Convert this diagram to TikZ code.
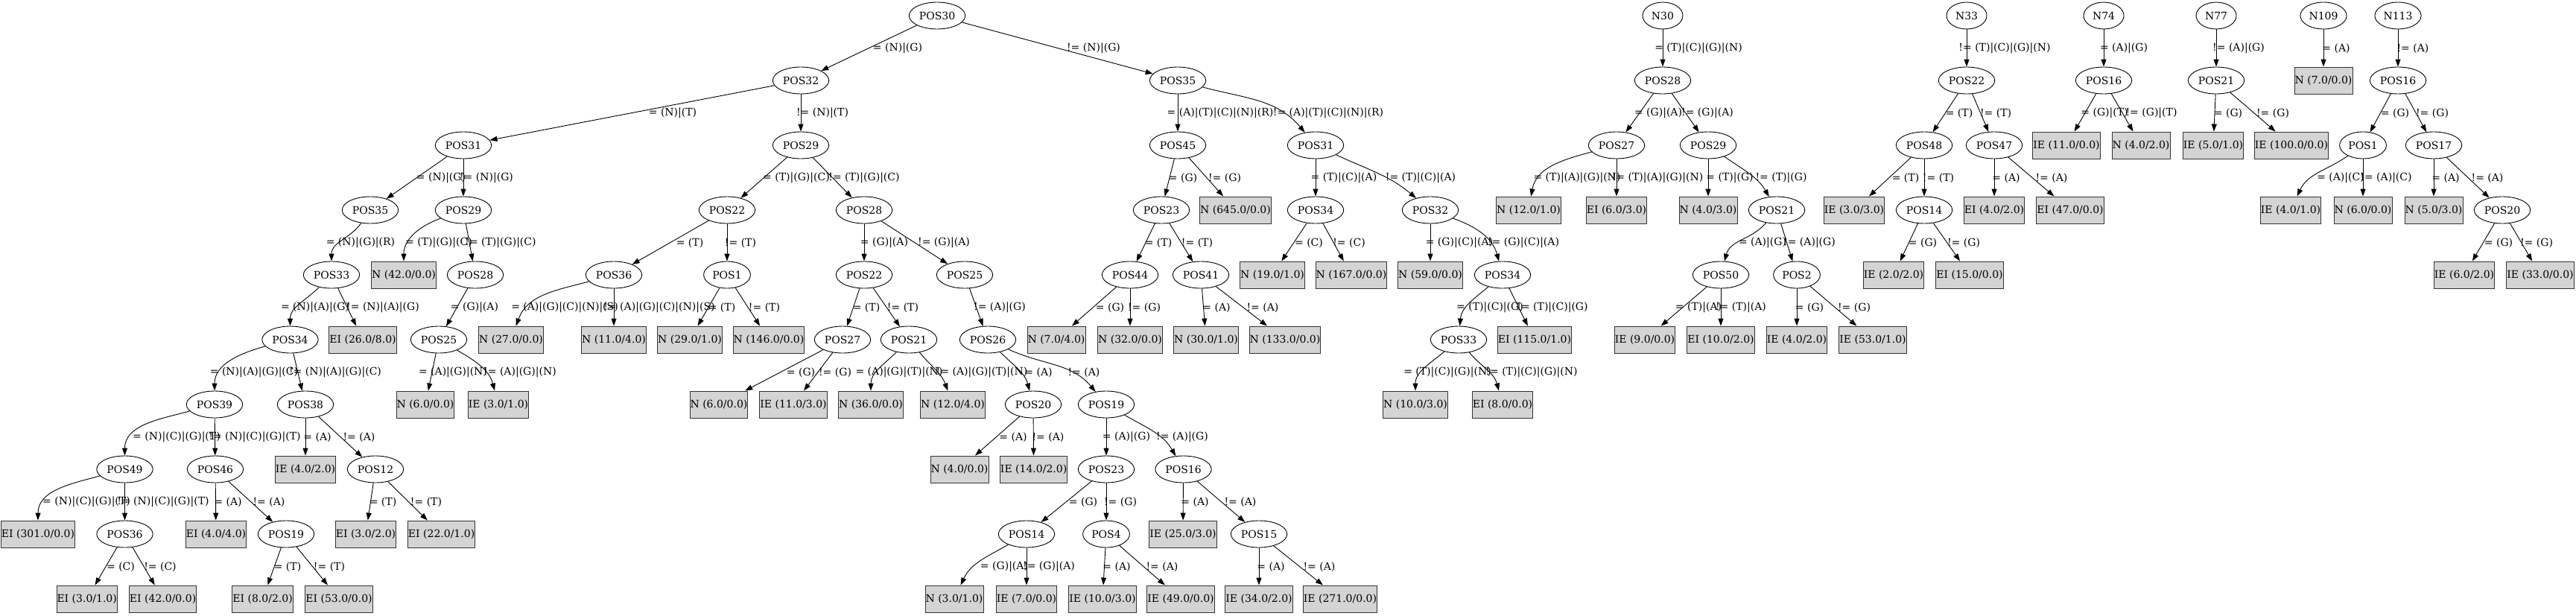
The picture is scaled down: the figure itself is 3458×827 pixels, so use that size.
\documentclass[tikz,border=0pt]{standalone}
\usepackage{fontspec}
\setmainfont{DejaVu Serif}
\usetikzlibrary{arrows.meta,shapes.geometric}

\begin{document}
\begin{tikzpicture}[
    x=1pt, y=-1pt,
    font=\fontsize{14}{16}\selectfont,
    split/.style={draw, ellipse, line width=0.9pt, inner xsep=2.5pt, inner ysep=0pt, minimum width=54pt, minimum height=36pt},
    leaf/.style={draw=black!80, line width=0.9pt, fill=black!17, inner xsep=0.5pt, inner ysep=0pt, minimum height=36pt},
    conn/.style={-{Triangle[length=10pt, width=7pt]}, line width=0.9pt},
    lbl/.style={inner sep=0pt}
]
\useasboundingbox (0,0) rectangle (3458,827);

% Baum POS30
\node[split] (pos30) at (1258,21) {POS30};
\node[split] (pos32) at (1075,108) {POS32};
\node[split] (pos35) at (1581,108) {POS35};
\node[split] (pos31) at (622,195) {POS31};
\node[split] (pos29) at (1075,195) {POS29};
\node[split] (pos35b) at (497,282) {POS35};
\node[split] (pos29b) at (622,282) {POS29};
\node[split] (pos33) at (445,369) {POS33};
\node[leaf] (n42) at (542,369) {N (42.0/0.0)};
\node[split] (pos28) at (638,369) {POS28};
\node[split] (pos34) at (389.5,456) {POS34};
\node[leaf] (ei26) at (487,456) {EI (26.0/8.0)};
\node[split] (pos25) at (589,456) {POS25};
\node[split] (pos39) at (288,543) {POS39};
\node[split] (pos38) at (410,543) {POS38};
\node[leaf] (n6a) at (571,543) {N (6.0/0.0)};
\node[leaf] (ie3a) at (669,543) {IE (3.0/1.0)};
\node[split] (pos49) at (167.5,630) {POS49};
\node[split] (pos46) at (289,630) {POS46};
\node[leaf] (ie4a) at (410,630) {IE (4.0/2.0)};
\node[split] (pos12) at (504,630) {POS12};
\node[leaf] (ei301) at (51,717) {EI (301.0/0.0)};
\node[split] (pos36) at (167.5,717) {POS36};
\node[leaf] (ei4) at (290,717) {EI (4.0/4.0)};
\node[split] (pos19) at (384,717) {POS19};
\node[leaf] (ei3b) at (491,717) {EI (3.0/2.0)};
\node[leaf] (ei22) at (592.6,717) {EI (22.0/1.0)};
\node[leaf] (ei3a) at (116.7,804) {EI (3.0/1.0)};
\node[leaf] (ei42) at (218.6,804) {EI (42.0/0.0)};
\node[leaf] (ei8a) at (352.6,804) {EI (8.0/2.0)};
\node[leaf] (ei53) at (455,804) {EI (53.0/0.0)};

\node[split] (pos22) at (976,282) {POS22};
\node[split] (pos28b) at (1160,282) {POS28};
\node[split] (pos36b) at (824,369) {POS36};
\node[split] (pos1) at (976,369) {POS1};
\node[split] (pos22b) at (1160,369) {POS22};
\node[split] (pos25b) at (1295,369) {POS25};
\node[leaf] (n27) at (686,456) {N (27.0/0.0)};
\node[leaf] (n11) at (824,456) {N (11.0/4.0)};
\node[leaf] (n29) at (926,456) {N (29.0/1.0)};
\node[leaf] (n146) at (1032,456) {N (146.0/0.0)};
\node[split] (pos27) at (1131,456) {POS27};
\node[split] (pos21) at (1220,456) {POS21};
\node[split] (pos26) at (1326,456) {POS26};
\node[leaf] (n6b) at (965,543) {N (6.0/0.0)};
\node[leaf] (ie11a) at (1065,543) {IE (11.0/3.0)};
\node[leaf] (n36) at (1169,543) {N (36.0/0.0)};
\node[leaf] (n12a) at (1279,543) {N (12.0/4.0)};
\node[split] (pos20) at (1387,543) {POS20};
\node[split] (pos19b) at (1485,543) {POS19};
\node[leaf] (n4a) at (1288,630) {N (4.0/0.0)};
\node[leaf] (ie14) at (1387.6,630) {IE (14.0/2.0)};
\node[split] (pos23) at (1485,630) {POS23};
\node[split] (pos16) at (1588.5,630) {POS16};
\node[split] (pos14) at (1378,717) {POS14};
\node[split] (pos4) at (1485,717) {POS4};
\node[leaf] (ie25) at (1588,717) {IE (25.0/3.0)};
\node[split] (pos15) at (1690,717) {POS15};
\node[leaf] (n3) at (1281,804) {N (3.0/1.0)};
\node[leaf] (ie7) at (1378,804) {IE (7.0/0.0)};
\node[leaf] (ie10) at (1480,804) {IE (10.0/3.0)};
\node[leaf] (ie49) at (1585,804) {IE (49.0/0.0)};
\node[leaf] (ie34) at (1690,804) {IE (34.0/2.0)};
\node[leaf] (ie271) at (1799,804) {IE (271.0/0.0)};

\node[split] (pos45) at (1581,195) {POS45};
\node[split] (pos31b) at (1766,195) {POS31};
\node[split] (pos23b) at (1559,282) {POS23};
\node[leaf] (n645) at (1658.5,282) {N (645.0/0.0)};
\node[split] (pos34b) at (1766,282) {POS34};
\node[split] (pos32b) at (1920,282) {POS32};
\node[split] (pos44) at (1517,369) {POS44};
\node[split] (pos41) at (1612,369) {POS41};
\node[leaf] (n19) at (1708,369) {N (19.0/1.0)};
\node[leaf] (n167) at (1814,369) {N (167.0/0.0)};
\node[leaf] (n59) at (1920,369) {N (59.0/0.0)};
\node[split] (pos34c) at (2017,369) {POS34};
\node[leaf] (n7a) at (1418,456) {N (7.0/4.0)};
\node[leaf] (n32) at (1517,456) {N (32.0/0.0)};
\node[leaf] (n30) at (1619,456) {N (30.0/1.0)};
\node[leaf] (n133) at (1725,456) {N (133.0/0.0)};
\node[split] (pos33b) at (1958,456) {POS33};
\node[leaf] (ei115) at (2060,456) {EI (115.0/1.0)};
\node[leaf] (n10) at (1900,543) {N (10.0/3.0)};
\node[leaf] (ei8b) at (2017,543) {EI (8.0/0.0)};

\draw[conn] (pos30) -- (pos32) node[lbl] at (1205,65) {= (N)|(G)};
\draw[conn] (pos30) -- (pos35) node[lbl] at (1468,65) {!= (N)|(G)};
\draw[conn] (pos32) -- (pos31) node[lbl] at (903,152) {= (N)|(T)};
\draw[conn] (pos32) -- (pos29) node[lbl] at (1104,152) {!= (N)|(T)};
\draw[conn] (pos31) -- (pos35b) node[lbl] at (592,239) {= (N)|(G)};
\draw[conn] (pos31) -- (pos29b) node[lbl] at (653,239) {!= (N)|(G)};
\draw[conn] (pos35b) to[out=235,in=90] (pos33) node[lbl] at (484,326) {= (N)|(G)|(R)};
\draw[conn] (pos29b) to[out=200,in=90] (n42) node[lbl] at (589,326) {= (T)|(G)|(C)};
\draw[conn] (pos29b) -- (pos28) node[lbl] at (672,326) {!= (T)|(G)|(C)};
\draw[conn] (pos33) to[out=225,in=90] (pos34) node[lbl] at (423,413) {= (N)|(A)|(G)};
\draw[conn] (pos33) -- (ei26) node[lbl] at (514,413) {!= (N)|(A)|(G)};
\draw[conn] (pos28) -- (pos25) node[lbl] at (637,413) {= (G)|(A)};
\draw[conn] (pos34) to[out=195,in=90] (pos39) node[lbl] at (341,500) {= (N)|(A)|(G)|(C)};
\draw[conn] (pos34) -- (pos38) node[lbl] at (450,500) {!= (N)|(A)|(G)|(C)};
\draw[conn] (pos25) -- (n6a) node[lbl] at (608,500) {= (A)|(G)|(N)};
\draw[conn] (pos25) to[out=-30,in=105] (ie3a) node[lbl] at (698,500) {!= (A)|(G)|(N)};
\draw[conn] (pos39) to[out=195,in=90] (pos49) node[lbl] at (237,587) {= (N)|(C)|(G)|(T)};
\draw[conn] (pos39) -- (pos46) node[lbl] at (342,587) {!= (N)|(C)|(G)|(T)};
\draw[conn] (pos38) -- (ie4a) node[lbl] at (426,587) {= (A)};
\draw[conn] (pos38) -- (pos12) node[lbl] at (482,587) {!= (A)};
\draw[conn] (pos49) to[out=195,in=90] (ei301) node[lbl] at (116,674) {= (N)|(C)|(G)|(T)};
\draw[conn] (pos49) -- (pos36) node[lbl] at (219,674) {!= (N)|(C)|(G)|(T)};
\draw[conn] (pos46) -- (ei4) node[lbl] at (306,674) {= (A)};
\draw[conn] (pos46) -- (pos19) node[lbl] at (361,674) {!= (A)};
\draw[conn] (pos12) -- (ei3b) node[lbl] at (514,674) {= (T)};
\draw[conn] (pos12) -- (ei22) node[lbl] at (572,674) {!= (T)};
\draw[conn] (pos36) -- (ei3a) node[lbl] at (162,761) {= (C)};
\draw[conn] (pos36) -- (ei42) node[lbl] at (215,761) {!= (C)};
\draw[conn] (pos19) -- (ei8a) node[lbl] at (386,761) {= (T)};
\draw[conn] (pos19) -- (ei53) node[lbl] at (442,761) {!= (T)};

\draw[conn] (pos29) -- (pos22) node[lbl] at (1069,239) {= (T)|(G)|(C)};
\draw[conn] (pos29) -- (pos28b) node[lbl] at (1160,239) {!= (T)|(G)|(C)};
\draw[conn] (pos22) -- (pos36b) node[lbl] at (926,326) {= (T)};
\draw[conn] (pos22) -- (pos1) node[lbl] at (994,326) {!= (T)};
\draw[conn] (pos28b) -- (pos22b) node[lbl] at (1187,326) {= (G)|(A)};
\draw[conn] (pos28b) -- (pos25b) node[lbl] at (1267,326) {!= (G)|(A)};
\draw[conn] (pos36b) to[out=195,in=70] (n27) node[lbl] at (758,413) {= (A)|(G)|(C)|(N)|(S)};
\draw[conn] (pos36b) -- (n11) node[lbl] at (885,413) {!= (A)|(G)|(C)|(N)|(S)};
\draw[conn] (pos1) -- (n29) node[lbl] at (969,413) {= (T)};
\draw[conn] (pos1) -- (n146) node[lbl] at (1026,413) {!= (T)};
\draw[conn] (pos22b) -- (pos27) node[lbl] at (1163,413) {= (T)};
\draw[conn] (pos22b) -- (pos21) node[lbl] at (1212,413) {!= (T)};
\draw[conn] (pos25b) -- (pos26) node[lbl] at (1342,413) {!= (A)|(G)};
\draw[conn] (pos27) -- (n6b) node[lbl] at (1075,500) {= (G)};
\draw[conn] (pos27) -- (ie11a) node[lbl] at (1121,500) {!= (G)};
\draw[conn] (pos21) to[out=225,in=90] (n36) node[lbl] at (1207,500) {= (A)|(G)|(T)|(N)};
\draw[conn] (pos21) to[out=-50,in=110] (n12a) node[lbl] at (1318,500) {!= (A)|(G)|(T)|(N)};
\draw[conn] (pos26) to[out=-45,in=105] (pos20) node[lbl] at (1394,500) {= (A)};
\draw[conn] (pos26) to[out=-25,in=130] (pos19b) node[lbl] at (1455,500) {!= (A)};
\draw[conn] (pos20) -- (n4a) node[lbl] at (1360,587) {= (A)};
\draw[conn] (pos20) -- (ie14) node[lbl] at (1407,587) {!= (A)};
\draw[conn] (pos19b) -- (pos23) node[lbl] at (1512,587) {= (A)|(G)};
\draw[conn] (pos19b) to[out=-30,in=120] (pos16) node[lbl] at (1587,587) {!= (A)|(G)};
\draw[conn] (pos23) -- (pos14) node[lbl] at (1454,674) {= (G)};
\draw[conn] (pos23) -- (pos4) node[lbl] at (1504,674) {!= (G)};
\draw[conn] (pos16) -- (ie25) node[lbl] at (1604,674) {= (A)};
\draw[conn] (pos16) -- (pos15) node[lbl] at (1665,674) {!= (A)};
\draw[conn] (pos14) to[out=210,in=65] (n3) node[lbl] at (1348,761) {= (G)|(A)};
\draw[conn] (pos14) -- (ie7) node[lbl] at (1408,761) {!= (G)|(A)};
\draw[conn] (pos4) -- (ie10) node[lbl] at (1499,761) {= (A)};
\draw[conn] (pos4) -- (ie49) node[lbl] at (1560,761) {!= (A)};
\draw[conn] (pos15) -- (ie34) node[lbl] at (1706,761) {= (A)};
\draw[conn] (pos15) -- (ie271) node[lbl] at (1771,761) {!= (A)};

\draw[conn] (pos35) -- (pos45) node[lbl] at (1638,152) {= (A)|(T)|(C)|(N)|(R)};
\draw[conn] (pos35) to[out=-15,in=130] (pos31b) node[lbl] at (1783,152) {!= (A)|(T)|(C)|(N)|(R)};
\draw[conn] (pos45) -- (pos23b) node[lbl] at (1588,239) {= (G)};
\draw[conn] (pos45) -- (n645) node[lbl] at (1644,239) {!= (G)};
\draw[conn] (pos31b) -- (pos34b) node[lbl] at (1804,239) {= (T)|(C)|(A)};
\draw[conn] (pos31b) to[out=-25,in=140] (pos32b) node[lbl] at (1907,239) {!= (T)|(C)|(A)};
\draw[conn] (pos23b) -- (pos44) node[lbl] at (1555,326) {= (T)};
\draw[conn] (pos23b) -- (pos41) node[lbl] at (1607,326) {!= (T)};
\draw[conn] (pos34b) -- (n19) node[lbl] at (1757,326) {= (C)};
\draw[conn] (pos34b) -- (n167) node[lbl] at (1811,326) {!= (C)};
\draw[conn] (pos32b) -- (n59) node[lbl] at (1959,326) {= (G)|(C)|(A)};
\draw[conn] (pos32b) to[out=-20,in=105] (pos34c) node[lbl] at (2045,326) {!= (G)|(C)|(A)};
\draw[conn] (pos44) -- (n7a) node[lbl] at (1490,413) {= (G)};
\draw[conn] (pos44) -- (n32) node[lbl] at (1536,413) {!= (G)};
\draw[conn] (pos41) -- (n30) node[lbl] at (1633,413) {= (A)};
\draw[conn] (pos41) -- (n133) node[lbl] at (1695,413) {!= (A)};
\draw[conn] (pos34c) to[out=220,in=85] (pos33b) node[lbl] at (2000,413) {= (T)|(C)|(G)};
\draw[conn] (pos34c) -- (ei115) node[lbl] at (2084,413) {!= (T)|(C)|(G)};
\draw[conn] (pos33b) to[out=220,in=90] (n10) node[lbl] at (1943,500) {= (T)|(C)|(G)|(N)};
\draw[conn] (pos33b) to[out=-50,in=105] (ei8b) node[lbl] at (2056,500) {!= (T)|(C)|(G)|(N)};

% Baum N30
\node[split] (r30) at (2232,21) {N30};
\node[split] (b28) at (2232,108) {POS28};
\node[split] (b27) at (2170,195) {POS27};
\node[split] (b29) at (2293,195) {POS29};
\node[leaf] (bn12) at (2052,282) {N (12.0/1.0)};
\node[leaf] (bei6) at (2170,282) {EI (6.0/3.0)};
\node[leaf] (bn4) at (2293,282) {N (4.0/3.0)};
\node[split] (b21) at (2385,282) {POS21};
\node[split] (b50) at (2310,369) {POS50};
\node[split] (b2) at (2412,369) {POS2};
\node[leaf] (bie9) at (2208,456) {IE (9.0/0.0)};
\node[leaf] (bei10) at (2310,456) {EI (10.0/2.0)};
\node[leaf] (bie4) at (2412,456) {IE (4.0/2.0)};
\node[leaf] (bie53) at (2514,456) {IE (53.0/1.0)};

\draw[conn] (r30) -- (b28) node[lbl] at (2280,65) {= (T)|(C)|(G)|(N)};
\draw[conn] (b28) -- (b27) node[lbl] at (2226,152) {= (G)|(A)};
\draw[conn] (b28) -- (b29) node[lbl] at (2292,152) {!= (G)|(A)};
\draw[conn] (b27) to[out=195,in=80] (bn12) node[lbl] at (2117,239) {= (T)|(A)|(G)|(N)};
\draw[conn] (b27) -- (bei6) node[lbl] at (2225,239) {!= (T)|(A)|(G)|(N)};
\draw[conn] (b29) -- (bn4) node[lbl] at (2322,239) {= (T)|(G)};
\draw[conn] (b29) to[out=-35,in=120] (b21) node[lbl] at (2391,239) {!= (T)|(G)};
\draw[conn] (b21) to[out=230,in=75] (b50) node[lbl] at (2366,326) {= (A)|(G)};
\draw[conn] (b21) -- (b2) node[lbl] at (2429,326) {!= (A)|(G)};
\draw[conn] (b50) -- (bie9) node[lbl] at (2280,413) {= (T)|(A)};
\draw[conn] (b50) -- (bei10) node[lbl] at (2337,413) {!= (T)|(A)};
\draw[conn] (b2) -- (bie4) node[lbl] at (2429,413) {= (G)};
\draw[conn] (b2) -- (bie53) node[lbl] at (2489,413) {!= (G)};

% Baum N33
\node[split] (r33) at (2640,21) {N33};
\node[split] (c22) at (2640,108) {POS22};
\node[split] (c48) at (2583,195) {POS48};
\node[split] (c47) at (2677,195) {POS47};
\node[leaf] (cie3) at (2489,282) {IE (3.0/3.0)};
\node[split] (c14) at (2583,282) {POS14};
\node[leaf] (cei4) at (2677,282) {EI (4.0/2.0)};
\node[leaf] (cei47) at (2779,282) {EI (47.0/0.0)};
\node[leaf] (cie2) at (2542,369) {IE (2.0/2.0)};
\node[leaf] (cei15) at (2644,369) {EI (15.0/0.0)};

\draw[conn] (r33) -- (c22) node[lbl] at (2691,65) {!= (T)|(C)|(G)|(N)};
\draw[conn] (c22) -- (c48) node[lbl] at (2630,152) {= (T)};
\draw[conn] (c22) -- (c47) node[lbl] at (2679,152) {!= (T)};
\draw[conn] (c48) -- (cie3) node[lbl] at (2558,239) {= (T)};
\draw[conn] (c48) -- (c14) node[lbl] at (2602,239) {!= (T)};
\draw[conn] (c47) -- (cei4) node[lbl] at (2693,239) {= (A)};
\draw[conn] (c47) -- (cei47) node[lbl] at (2754,239) {!= (A)};
\draw[conn] (c14) -- (cie2) node[lbl] at (2581,326) {= (G)};
\draw[conn] (c14) -- (cei15) node[lbl] at (2636,326) {!= (G)};

% Baum N74
\node[split] (r74) at (2824,21) {N74};
\node[split] (d16) at (2824,108) {POS16};
\node[leaf] (die11) at (2774,195) {IE (11.0/0.0)};
\node[leaf] (dn4) at (2874,195) {N (4.0/2.0)};
\draw[conn] (r74) -- (d16) node[lbl] at (2851,65) {= (A)|(G)};
\draw[conn] (d16) -- (die11) node[lbl] at (2825,152) {= (G)|(T)};
\draw[conn] (d16) -- (dn4) node[lbl] at (2888,152) {!= (G)|(T)};

% Baum N77
\node[split] (r77) at (2975,21) {N77};
\node[split] (e21) at (2975,108) {POS21};
\node[leaf] (eie5) at (2971,195) {IE (5.0/1.0)};
\node[leaf] (eie100) at (3076,195) {IE (100.0/0.0)};
\draw[conn] (r77) -- (e21) node[lbl] at (3005,65) {!= (A)|(G)};
\draw[conn] (e21) -- (eie5) node[lbl] at (2991,152) {= (G)};
\draw[conn] (e21) -- (eie100) node[lbl] at (3051,152) {!= (G)};

% Baum N109
\node[split] (r109) at (3119,21) {N109};
\node[leaf] (fn7) at (3119,108) {N (7.0/0.0)};
\draw[conn] (r109) -- (fn7) node[lbl] at (3136,65) {= (A)};

% Baum N113
\node[split] (r113) at (3219,21) {N113};
\node[split] (g16) at (3219,108) {POS16};
\node[split] (g1) at (3172,195) {POS1};
\node[split] (g17) at (3267,195) {POS17};
\node[leaf] (gie4) at (3075,282) {IE (4.0/1.0)};
\node[leaf] (gn6) at (3172,282) {N (6.0/0.0)};
\node[leaf] (gn5) at (3267,282) {N (5.0/3.0)};
\node[split] (g20) at (3359,282) {POS20};
\node[leaf] (gie6) at (3308,369) {IE (6.0/2.0)};
\node[leaf] (gie33) at (3410,369) {IE (33.0/0.0)};
\draw[conn] (r113) -- (g16) node[lbl] at (3239,65) {!= (A)};
\draw[conn] (g16) -- (g1) node[lbl] at (3215,152) {= (G)};
\draw[conn] (g16) -- (g17) node[lbl] at (3265,152) {!= (G)};
\draw[conn] (g1) to[out=215,in=65] (gie4) node[lbl] at (3142,239) {= (A)|(C)};
\draw[conn] (g1) -- (gn6) node[lbl] at (3203,239) {!= (A)|(C)};
\draw[conn] (g17) -- (gn5) node[lbl] at (3283,239) {= (A)};
\draw[conn] (g17) -- (g20) node[lbl] at (3339,239) {!= (A)};
\draw[conn] (g20) -- (gie6) node[lbl] at (3354,326) {= (G)};
\draw[conn] (g20) -- (gie33) node[lbl] at (3405,326) {!= (G)};
\end{tikzpicture}
\end{document}
